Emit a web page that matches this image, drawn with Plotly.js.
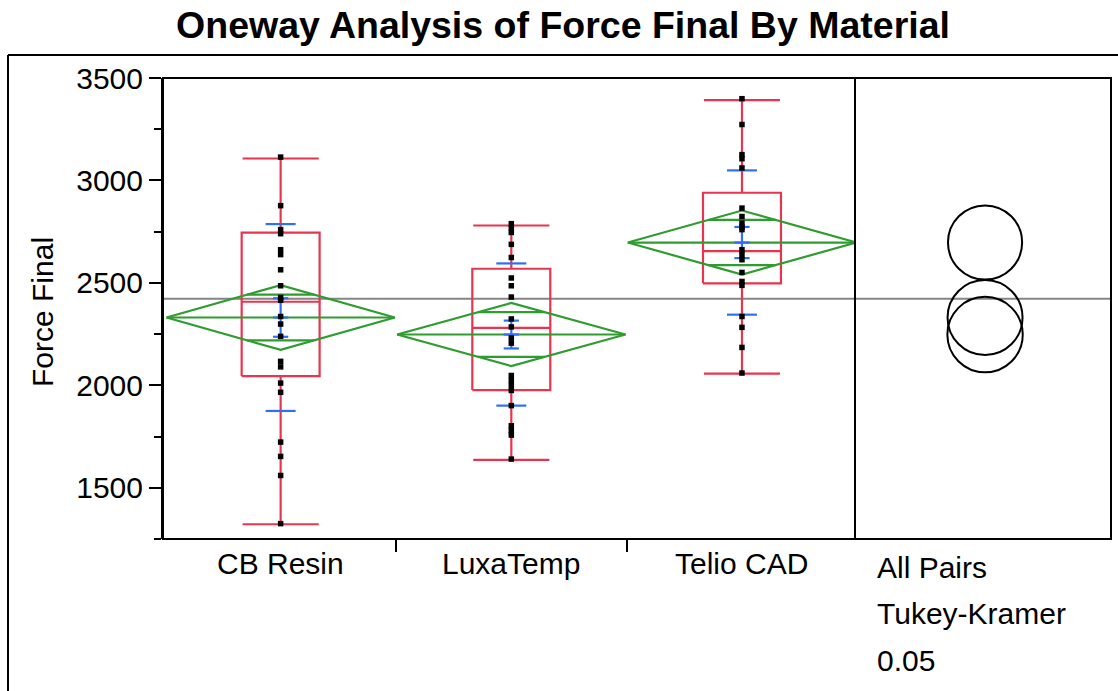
<!DOCTYPE html>
<html>
<head>
<meta charset="utf-8">
<script src="https://cdn.plot.ly/plotly-3.0.1.min.js"></script>
<style>html,body{margin:0;padding:0;background:#fff;}#chart{width:1118px;height:691px;}</style>
</head>
<body>
<div id="chart"></div>
<script>
// ---------------- data ----------------
const categories = ['CB Resin', 'LuxaTemp', 'Telio CAD'];
const yTickVals = [1500, 2000, 2500, 3000, 3500];
const yTickText = ['1500', '2000', '2500', '3000', '3500'];

const pointsCB = [3114, 2877, 2760, 2740, 2662, 2638, 2564, 2486, 2429, 2415, 2336, 2299,
                  2239, 2117, 2090, 2011, 1966, 1723, 1653, 1560, 1325];
const pointsLuxa = [2789, 2768, 2746, 2688, 2624, 2524, 2486, 2431, 2324, 2285, 2231, 2206,
                    2048, 2024, 2000, 1975, 1901, 1803, 1780, 1757, 1640];
const pointsTelio = [3399, 3273, 3126, 3106, 3061, 2865, 2824, 2792, 2773, 2760, 2662, 2638,
                     2613, 2551, 2507, 2488, 2336, 2283, 2185, 2060];

const boxMin    = [1322, 1636, 2057];
const boxQ1     = [2045, 1977, 2498];
const boxMedian = [2408, 2280, 2655];
const boxQ3     = [2745, 2569, 2940];
const boxMax    = [3107, 2780, 3392];

const groupMean = [2331, 2248, 2697];
const groupSD   = [456, 347, 352];
const groupSE   = [94, 68, 76];
const ciHalf    = [158, 154, 156];
const circleRadius = [183, 184, 181];
const grandMean = 2422;

const titleText = 'Oneway Analysis of Force Final By Material';
const yTitle = 'Force Final';
const panelText = ['All Pairs', 'Tukey-Kramer', '0.05'];

// ---------------- geometry / style ----------------
const W = 1118, H = 691;
const M = {l: 163, r: 7, t: 78, b: 152};
const plotW = W - M.l - M.r, plotH = H - M.t - M.b;
const split = (855 - M.l) / plotW;
const yRange = [1250, 3500];
const xRange = [0.49, 3.49];
const FONT = 'Liberation Sans, Arial, Helvetica, sans-serif';
const RED = '#e8354f', GREEN = '#2f9c2f', BLUE = '#2f6ff5';

const boxHalf = 0.169, capHalf = 0.165, sdHalf = 0.065, seHalf = 0.033, diaHalf = 0.495;

const xs = categories.map((c, i) => i + 1);

// red box plot
const bx = [], by = [];
function seg(ax, ay, x0, y0, x1, y1) { ax.push(x0, x1, null); ay.push(y0, y1, null); }
xs.forEach((c, i) => {
  bx.push(c - boxHalf, c + boxHalf, c + boxHalf, c - boxHalf, c - boxHalf, null);
  by.push(boxQ1[i], boxQ1[i], boxQ3[i], boxQ3[i], boxQ1[i], null);
  seg(bx, by, c - boxHalf, boxMedian[i], c + boxHalf, boxMedian[i]);
  seg(bx, by, c, boxQ3[i], c, boxMax[i]);
  seg(bx, by, c, boxQ1[i], c, boxMin[i]);
  seg(bx, by, c - capHalf, boxMax[i], c + capHalf, boxMax[i]);
  seg(bx, by, c - capHalf, boxMin[i], c + capHalf, boxMin[i]);
});

// green means diamonds
const gx = [], gy = [];
xs.forEach((c, i) => {
  const m = groupMean[i], h = ciHalf[i];
  gx.push(c - diaHalf, c, c + diaHalf, c, c - diaHalf, null);
  gy.push(m, m + h, m, m - h, m, null);
  seg(gx, gy, c - diaHalf, m, c + diaHalf, m);
  const ov = h / Math.SQRT2, ow = diaHalf * (1 - 1 / Math.SQRT2);
  seg(gx, gy, c - ow, m + ov, c + ow, m + ov);
  seg(gx, gy, c - ow, m - ov, c + ow, m - ov);
});

// blue std dev lines and mean error bars
const ux = [], uy = [];
xs.forEach((c, i) => {
  const m = groupMean[i];
  seg(ux, uy, c - sdHalf, m + groupSD[i], c + sdHalf, m + groupSD[i]);
  seg(ux, uy, c - sdHalf, m - groupSD[i], c + sdHalf, m - groupSD[i]);
  seg(ux, uy, c, m - groupSE[i], c, m + groupSE[i]);
  seg(ux, uy, c - seHalf, m + groupSE[i], c + seHalf, m + groupSE[i]);
  seg(ux, uy, c - seHalf, m - groupSE[i], c + seHalf, m - groupSE[i]);
  seg(ux, uy, c - seHalf, m, c + seHalf, m);
});

const allPts = [pointsCB, pointsLuxa, pointsTelio];
const px = [], py = [];
allPts.forEach((arr, i) => arr.forEach(v => { px.push(xs[i]); py.push(v); }));

const traces = [
  {x: bx, y: by, mode: 'lines', line: {color: RED, width: 2.2}, hoverinfo: 'skip', showlegend: false},
  {x: gx, y: gy, mode: 'lines', line: {color: GREEN, width: 2.2}, hoverinfo: 'skip', showlegend: false},
  {x: ux, y: uy, mode: 'lines', line: {color: BLUE, width: 2.2}, hoverinfo: 'skip', showlegend: false},
  {x: px, y: py, mode: 'markers', marker: {symbol: 'square', size: 5.5, color: '#000'}, showlegend: false},
  {x: [0.5], y: [grandMean], xaxis: 'x2', yaxis: 'y', mode: 'markers', marker: {opacity: 0}, hoverinfo: 'skip', showlegend: false}
];

// comparison circles
const x2px = plotW * (1 - split); // pixels per x2 unit (range [0,1])
const shapes = [];
shapes.push({type: 'line', xref: 'paper', yref: 'y', x0: 0, x1: 1, y0: grandMean, y1: grandMean,
             line: {color: '#858585', width: 2}, layer: 'below'});
groupMean.forEach((m, i) => {
  const r = circleRadius[i];
  const rx = r * (plotH / (yRange[1] - yRange[0])) / x2px;
  shapes.push({type: 'circle', xref: 'x2', yref: 'y', x0: 0.508 - rx, x1: 0.508 + rx,
               y0: m - r, y1: m + r, line: {color: '#000', width: 2}});
});
// plot frame and divider
shapes.push({type: 'rect', xref: 'paper', yref: 'paper', x0: 0, x1: 1, y0: 0, y1: 1, line: {color: '#000', width: 2}});
shapes.push({type: 'line', xref: 'paper', yref: 'paper', x0: split, x1: split, y0: 0, y1: 1, line: {color: '#000', width: 2}});
// outer report frame
const ox0 = (8 - M.l) / plotW, oy1 = (M.t + plotH - 55) / plotH;
shapes.push({type: 'line', xref: 'paper', yref: 'paper', x0: ox0, x1: 1.05, y0: oy1, y1: oy1, line: {color: '#000', width: 2}});
shapes.push({type: 'line', xref: 'paper', yref: 'paper', x0: ox0, x1: ox0, y0: oy1, y1: -0.4, line: {color: '#000', width: 2}});

const annotations = [];
categories.forEach((c, i) => annotations.push({
  text: c, xref: 'x', yref: 'paper', x: xs[i], y: (plotH - (563 - M.t)) / plotH,
  xanchor: 'center', yanchor: 'middle', showarrow: false, font: {family: FONT, size: 30, color: '#000'}
}));
[567, 613, 660].forEach((yy, i) => annotations.push({
  text: panelText[i], xref: 'paper', yref: 'paper', x: (875 - M.l) / plotW, y: (plotH - (yy - M.t)) / plotH,
  xanchor: 'left', yanchor: 'middle', showarrow: false, font: {family: FONT, size: 30, color: '#000'}
}));
annotations.push({
  text: yTitle, xref: 'paper', yref: 'paper', x: (42 - M.l) / plotW, y: (plotH - (312 - M.t)) / plotH,
  xanchor: 'center', yanchor: 'middle', textangle: -90, showarrow: false,
  font: {family: FONT, size: 30, color: '#000'}
});

const layout = {
  width: W, height: H, margin: M, paper_bgcolor: '#fff', plot_bgcolor: '#fff',
  showlegend: false, hovermode: false,
  title: {text: titleText, font: {family: FONT, size: 37.5, color: '#000', weight: 'bold'},
          x: 563 / W, xref: 'container', xanchor: 'center', y: 1 - 25 / H, yref: 'container', yanchor: 'middle'},
  xaxis: {domain: [0, split], range: xRange, showgrid: false, zeroline: false, showline: false,
          tickvals: [1.5, 2.5], ticks: 'outside', ticklen: 12, tickwidth: 2, tickcolor: '#000',
          showticklabels: false, fixedrange: true},
  xaxis2: {domain: [split, 1], range: [0, 1], anchor: 'y', showgrid: false, zeroline: false,
           showline: false, showticklabels: false, ticks: '', fixedrange: true},
  yaxis: {range: yRange, tickvals: yTickVals, ticktext: yTickText, ticks: 'outside', ticklen: 12,
          tickwidth: 2, tickcolor: '#000', showline: true, linewidth: 2, linecolor: '#000',
          showgrid: false, zeroline: false, tickfont: {family: FONT, size: 30, color: '#000'},
          minor: {tickvals: [1250, 1750, 2250, 2750, 3250], ticks: 'outside', ticklen: 7, tickwidth: 2, tickcolor: '#000'},
          fixedrange: true},
  shapes: shapes, annotations: annotations
};

Plotly.newPlot('chart', traces, layout, {staticPlot: true, displayModeBar: false});
</script>
</body>
</html>
